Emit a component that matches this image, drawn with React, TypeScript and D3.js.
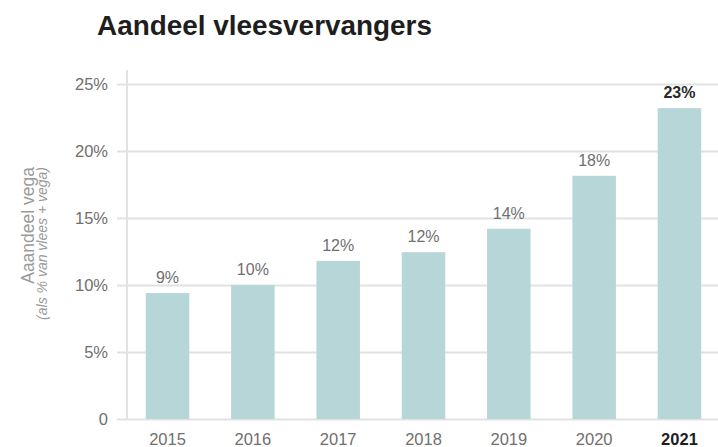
// @ts-nocheck
import React from "react";
import * as d3 from "d3";

const years = ["2015", "2016", "2017", "2018", "2019", "2020", "2021"];
const shares = [9.4, 10.0, 11.8, 12.45, 14.2, 18.15, 23.2];
const yTicks = [0, 5, 10, 15, 20, 25];

const W = 718;
const H = 447;

const App = () => {
  const svgRef = React.useRef(null);

  React.useEffect(() => {
    const svg = d3.select(svgRef.current);
    svg.selectAll("*").remove();

    const font = "'Liberation Sans', Arial, sans-serif";
    const x = d3.scaleBand()
      .domain(years)
      .range([127, 720])
      .paddingInner(0.49)
      .paddingOuter(0.22);
    const y = d3.scaleLinear().domain([0, 25]).range([419, 84]);

    // title
    svg.append("text")
      .attr("x", 97)
      .attr("y", 35)
      .attr("font-family", font)
      .attr("font-weight", "bold")
      .attr("font-size", 28)
      .attr("textLength", 335)
      .attr("lengthAdjust", "spacingAndGlyphs")
      .attr("fill", "#1e1e1e")
      .text("Aandeel vleesvervangers");

    // grid lines + y labels
    const yAxis = d3.axisLeft(y)
      .tickValues(yTicks)
      .tickSize(-(718 - 117))
      .tickPadding(9)
      .tickFormat((d) => (d === 0 ? "0" : `${d}%`));
    const yg = svg.append("g")
      .attr("transform", "translate(117,0)")
      .call(yAxis);
    yg.select(".domain").remove();
    yg.selectAll("line").attr("stroke", "#e2e2e2").attr("stroke-width", 2);
    yg.selectAll("text")
      .attr("fill", "#6f6f6f")
      .attr("font-family", font)
      .attr("font-size", 16.5);

    // vertical axis line
    svg.append("line")
      .attr("x1", 127).attr("x2", 127)
      .attr("y1", 70).attr("y2", 420)
      .attr("stroke", "#e2e2e2")
      .attr("stroke-width", 2);

    // bars
    svg.append("g")
      .selectAll("rect")
      .data(years)
      .enter()
      .append("rect")
      .attr("x", (d) => x(d))
      .attr("y", (d, i) => y(shares[i]))
      .attr("width", x.bandwidth())
      .attr("height", (d, i) => y(0) - y(shares[i]))
      .attr("fill", "#b6d6d8");

    // value labels
    svg.append("g")
      .selectAll("text")
      .data(years)
      .enter()
      .append("text")
      .attr("x", (d) => x(d) + x.bandwidth() / 2)
      .attr("y", (d, i) => y(shares[i]) - 10)
      .attr("text-anchor", "middle")
      .attr("font-family", font)
      .attr("font-size", 16)
      .attr("font-weight", (d) => (d === "2021" ? "bold" : "normal"))
      .attr("fill", (d) => (d === "2021" ? "#2a2a2a" : "#6f6f6f"))
      .text((d, i) => `${d3.format(".0f")(shares[i])}%`);

    // x labels
    svg.append("g")
      .selectAll("text")
      .data(years)
      .enter()
      .append("text")
      .attr("x", (d) => x(d) + x.bandwidth() / 2)
      .attr("y", 445)
      .attr("text-anchor", "middle")
      .attr("font-family", font)
      .attr("font-size", 16.5)
      .attr("font-weight", (d) => (d === "2021" ? "bold" : "normal"))
      .attr("fill", (d) => (d === "2021" ? "#1e1e1e" : "#6f6f6f"))
      .text((d) => d);

    // y axis title
    svg.append("text")
      .attr("transform", "translate(34,167) rotate(-90)")
      .attr("text-anchor", "end")
      .attr("font-family", font)
      .attr("font-size", 17.5)
      .attr("fill", "#9a9a9a")
      .text("Aaandeel vega");
    svg.append("text")
      .attr("transform", "translate(47,167) rotate(-90)")
      .attr("text-anchor", "end")
      .attr("font-family", font)
      .attr("font-size", 14)
      .attr("font-style", "italic")
      .attr("fill", "#9a9a9a")
      .text("(als % van vlees + vega)");
  }, []);

  return (
    <svg
      ref={svgRef}
      width={W}
      height={H}
      style={{ position: "absolute", left: 0, top: 0, background: "#fff" }}
    />
  );
};

export default App;
